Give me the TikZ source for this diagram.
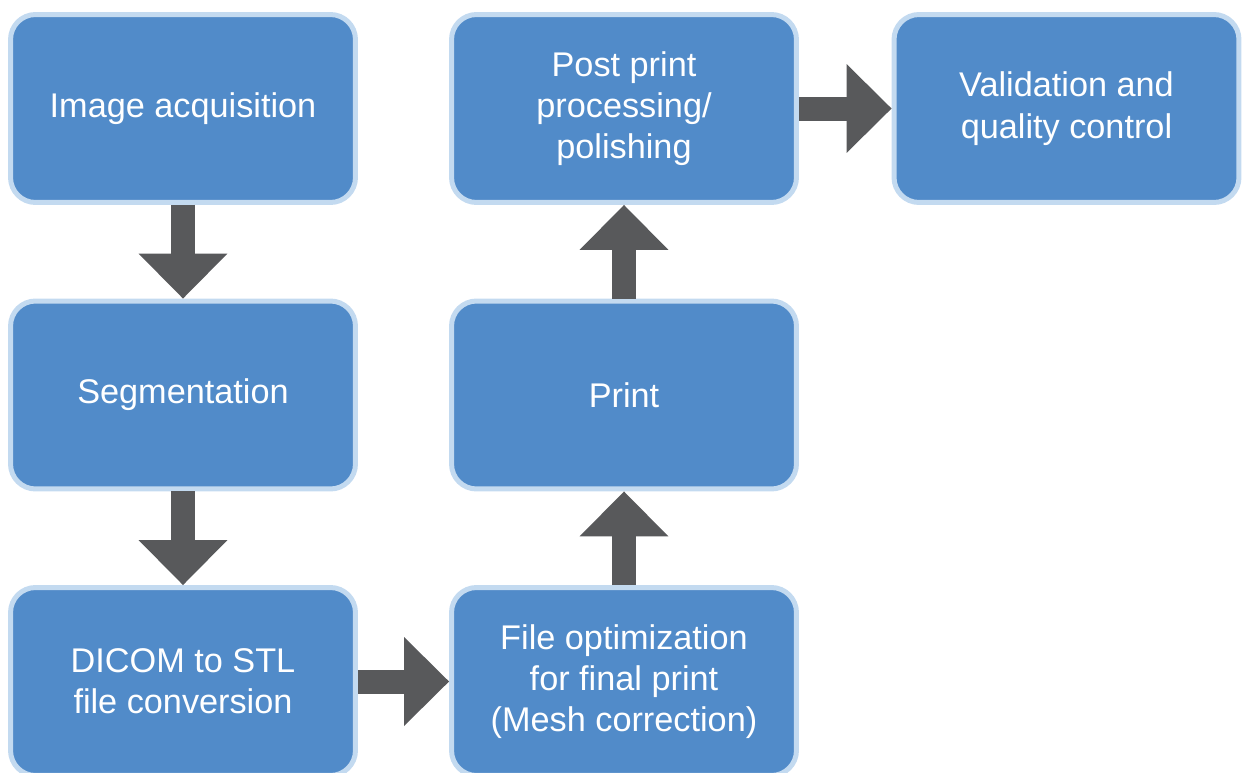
\documentclass[tikz,border=0pt]{standalone}
\usepackage{fontspec}
\setmainfont{Liberation Sans}
\usetikzlibrary{arrows.meta}
\definecolor{boxblue}{HTML}{518BC9}
\definecolor{boxedge}{HTML}{C3DAF0}
\definecolor{arrowgray}{HTML}{58595B}
\begin{document}
\begin{tikzpicture}[x=0.02cm,y=-0.02cm]
\tikzset{
  stage/.style={draw=boxedge,fill=boxblue,line width=0.1cm,rounded corners=0.5cm,
    minimum width=6.9cm,minimum height=3.76cm,inner sep=0pt,text=white,align=center,
    font=\fontsize{19.5}{23.5}\selectfont},
  flow/.style={draw=arrowgray,line width=0.48cm,
    -{Triangle[width=1.78cm,length=0.9cm,line width=0pt]}}
}
\useasboundingbox (0,0) rectangle (1242,772);
% etapas (coluna da esquerda)
\node[stage] (img)   at (183,108.5) {Image acquisition};
\node[stage] (seg)   at (183,395)   {Segmentation};
\node[stage] (dicom) at (183,681.5) {DICOM to STL\\file conversion};
% etapas (coluna do meio e direita)
\node[stage] (opt)   at (624,681.5) {File optimization\\for final print\\(Mesh correction)};
\node[stage] (prt)   at (624,395)   {Print};
\node[stage] (post)  at (624,108.5) {Post print\\processing/\\polishing};
\node[stage] (val)   at (1066.5,108.5) {Validation and\\quality control};

% setas
\draw[flow] (img.south) -- (seg.north);
\draw[flow] (seg.south) -- (dicom.north);
\draw[flow] (dicom.east) -- (opt.west);
\draw[flow] (opt.north) -- (prt.south);
\draw[flow] (prt.north) -- (post.south);
\draw[flow] (post.east) -- (val.west);
\end{tikzpicture}
\end{document}
